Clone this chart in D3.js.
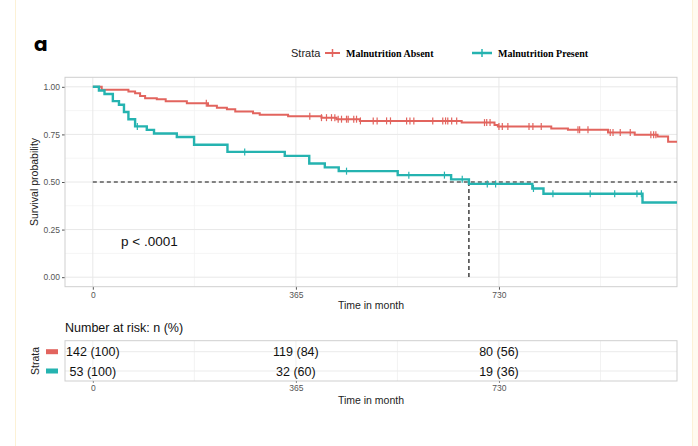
<!DOCTYPE html>
<html>
<head>
<meta charset="utf-8">
<script src="https://cdn.jsdelivr.net/npm/d3@7"></script>
<style>
  body { margin: 0; background: #fff; }
  svg { display: block; font-family: "Liberation Sans", Arial, sans-serif; }
</style>
</head>
<body>
<div id="chart"></div>
<script>
// strata and colours
const strata = ["Malnutrition Absent", "Malnutrition Present"];
const colors = ["#e2645e", "#25b3b0"];

// Malnutrition Absent: event times and survival after each drop
const absentTimes = [16, 64, 76, 85, 94, 115, 131, 169, 207, 223, 241, 256, 288, 300, 351, 411, 438, 480, 663, 722, 728, 824, 854, 926, 974, 1015, 1034];
const absentSurv  = [0.985, 0.975, 0.966, 0.952, 0.94, 0.935, 0.924, 0.914, 0.90, 0.89, 0.882, 0.87, 0.861, 0.853, 0.846, 0.838, 0.83, 0.821, 0.812, 0.80, 0.791, 0.781, 0.774, 0.76, 0.748, 0.739, 0.711];
const absentCensor = [204, 390, 411, 420, 429, 435, 441, 447, 456, 459, 469, 474, 481, 504, 511, 528, 535, 564, 570, 577, 611, 629, 634, 638, 645, 654, 704, 708, 714, 730, 736, 746, 784, 791, 806, 872, 875, 890, 930, 935, 948, 966, 1003, 1008, 1012];

// Malnutrition Present
const presentTimes = [11, 21, 36, 47, 56, 64, 76, 97, 110, 151, 182, 242, 345, 389, 417, 442, 548, 644, 676, 790, 810, 988];
const presentSurv  = [0.981, 0.962, 0.925, 0.906, 0.868, 0.830, 0.792, 0.774, 0.755, 0.736, 0.696, 0.658, 0.637, 0.597, 0.577, 0.557, 0.536, 0.514, 0.49, 0.466, 0.438, 0.392];
const presentCensor = [80, 273, 456, 568, 632, 664, 709, 724, 792, 827, 894, 938, 978, 986];

const endTime = 1050;
const medianTime = 676;

// axis ticks
const xTicks = [0, 365, 730];
const xMinor = [182.5, 547.5, 912.5];
const yTicks = [0, 0.25, 0.5, 0.75, 1];
const yMinor = [0.125, 0.375, 0.625, 0.875];

// risk table
const riskTimes = [0, 365, 730];
const riskAbsent = ["142 (100)", "119 (84)", "80 (56)"];
const riskPresent = ["53 (100)", "32 (60)", "19 (36)"];

const W = 698, H = 446;
const svg = d3.select("#chart").append("svg").attr("width", W).attr("height", H);

// faint page frame
svg.append("rect").attr("x", 15.5).attr("y", -2).attr("width", 677).attr("height", H + 4)
    .attr("fill", "none").attr("stroke", "#fcf1d6").attr("stroke-width", 1);
svg.append("rect").attr("x", 693).attr("y", 0).attr("width", 5).attr("height", H).attr("fill", "#fffaf0");

// scales
const x = d3.scaleLinear().domain([-50, 1050]).range([65, 677]);
const y = d3.scaleLinear().domain([-0.05, 1.05]).range([286.7, 77.3]);

// panel a label
svg.append("text").attr("x", 34).attr("y", 51).attr("font-size", 20).attr("font-weight", "bold")
    .attr("font-family", "Poppins, 'Open Sans', sans-serif").text("a");

// legend
const legY = 53;
svg.append("text").attr("x", 291).attr("y", legY + 4).attr("font-size", 11).attr("fill", "#222").text("Strata");
const legX = [[325, 340, 346], [472, 492, 498]];
strata.forEach((s, i) => {
    const [a, b, tx] = legX[i];
    svg.append("line").attr("x1", a).attr("x2", b).attr("y1", legY).attr("y2", legY)
        .attr("stroke", colors[i]).attr("stroke-width", i ? 2.5 : 2);
    svg.append("line").attr("x1", (a + b) / 2).attr("x2", (a + b) / 2).attr("y1", legY - 4).attr("y2", legY + 4)
        .attr("stroke", colors[i]).attr("stroke-width", 1.5);
    svg.append("text").attr("x", tx).attr("y", legY + 4).attr("font-size", 10).attr("font-weight", "bold")
        .attr("font-family", "'Liberation Serif', 'Times New Roman', serif").text(s);
});

// grid
const grid = svg.append("g");
grid.selectAll(".ymin").data(yMinor).enter().append("line")
    .attr("x1", 65).attr("x2", 677).attr("y1", d => y(d)).attr("y2", d => y(d))
    .attr("stroke", "#f2f2f2").attr("stroke-width", 0.8);
grid.selectAll(".xmin").data(xMinor).enter().append("line")
    .attr("y1", 77.3).attr("y2", 286.7).attr("x1", d => x(d)).attr("x2", d => x(d))
    .attr("stroke", "#f2f2f2").attr("stroke-width", 0.8);
grid.selectAll(".ymaj").data(yTicks).enter().append("line")
    .attr("x1", 65).attr("x2", 677).attr("y1", d => y(d)).attr("y2", d => y(d))
    .attr("stroke", "#e8e8e8").attr("stroke-width", 1);
grid.selectAll(".xmaj").data(xTicks).enter().append("line")
    .attr("y1", 77.3).attr("y2", 286.7).attr("x1", d => x(d)).attr("x2", d => x(d))
    .attr("stroke", "#e8e8e8").attr("stroke-width", 1);

// axes
const yAxis = svg.append("g").attr("transform", "translate(65,0)")
    .call(d3.axisLeft(y).tickValues(yTicks).tickFormat(d3.format(".2f")).tickSize(3).tickPadding(2));
const xAxis = svg.append("g").attr("transform", "translate(0,286.7)")
    .call(d3.axisBottom(x).tickValues(xTicks).tickSize(3).tickPadding(2));
[yAxis, xAxis].forEach(g => {
    g.select(".domain").remove();
    g.selectAll(".tick line").attr("stroke", "#555");
    g.selectAll(".tick text").attr("fill", "#555").attr("font-size", 8.5);
});

svg.append("rect").attr("x", 65).attr("y", 77.3).attr("width", 612).attr("height", 209.4)
    .attr("fill", "none").attr("stroke", "#cfcfcf").attr("stroke-width", 1);

svg.append("text").attr("transform", "translate(38,182) rotate(-90)").attr("text-anchor", "middle")
    .attr("font-size", 10.5).attr("fill", "#222").text("Survival probability");
svg.append("text").attr("x", 371).attr("y", 309).attr("text-anchor", "middle")
    .attr("font-size", 10.5).attr("fill", "#222").text("Time in month");

// median lines
svg.append("line").attr("x1", x(0)).attr("x2", x(endTime)).attr("y1", y(0.5)).attr("y2", y(0.5))
    .attr("stroke", "#111").attr("stroke-dasharray", "4,3").attr("stroke-width", 1.2);
svg.append("line").attr("x1", x(medianTime)).attr("x2", x(medianTime)).attr("y1", y(0.5)).attr("y2", y(0))
    .attr("stroke", "#111").attr("stroke-dasharray", "4,3").attr("stroke-width", 1.2);

// survival curves
const line = d3.line().x(d => x(d[0])).y(d => y(d[1])).curve(d3.curveStepAfter);
function stepAt(times, surv, t) {
    let s = 1;
    times.forEach((tt, i) => { if (tt <= t) s = surv[i]; });
    return s;
}
const series = [
    {times: absentTimes, surv: absentSurv, censor: absentCensor, color: colors[0], w: 2},
    {times: presentTimes, surv: presentSurv, censor: presentCensor, color: colors[1], w: 2.4}
];
series.forEach(sr => {
    const pts = [[0, 1]].concat(sr.times.map((t, i) => [t, sr.surv[i]]));
    pts.push([endTime, sr.surv[sr.surv.length - 1]]);
    svg.append("path").datum(pts).attr("d", line).attr("fill", "none")
        .attr("stroke", sr.color).attr("stroke-width", sr.w);
    svg.append("g").selectAll("line").data(sr.censor).enter().append("line")
        .attr("x1", d => x(d)).attr("x2", d => x(d))
        .attr("y1", d => y(stepAt(sr.times, sr.surv, d)) - 3.5)
        .attr("y2", d => y(stepAt(sr.times, sr.surv, d)) + 3.5)
        .attr("stroke", sr.color).attr("stroke-width", 1.2);
});

svg.append("text").attr("x", 121).attr("y", 245.5).attr("font-size", 13.5).attr("fill", "#111").text("p < .0001");

// risk table
svg.append("text").attr("x", 65).attr("y", 332).attr("font-size", 12.5).attr("fill", "#111").text("Number at risk: n (%)");
const rowY = [351.7, 371];
const tg = svg.append("g");
tg.selectAll(".tx").data(xMinor.concat(xTicks)).enter().append("line")
    .attr("x1", d => x(d)).attr("x2", d => x(d)).attr("y1", 340.7).attr("y2", 381)
    .attr("stroke", "#efefef").attr("stroke-width", 0.8);
tg.selectAll(".ty").data(rowY).enter().append("line")
    .attr("x1", 65).attr("x2", 677).attr("y1", d => d).attr("y2", d => d)
    .attr("stroke", "#ebebeb").attr("stroke-width", 1);
svg.append("rect").attr("x", 65).attr("y", 340.7).attr("width", 612).attr("height", 40.3)
    .attr("fill", "none").attr("stroke", "#cfcfcf").attr("stroke-width", 1);

[riskAbsent, riskPresent].forEach((row, i) => {
    svg.append("g").selectAll("text").data(row).enter().append("text")
        .attr("x", (d, j) => x(riskTimes[j])).attr("y", rowY[i] + 4.5)
        .attr("text-anchor", "middle").attr("font-size", 12.5).attr("fill", "#111").text(d => d);
    svg.append("rect").attr("x", 46).attr("y", rowY[i] - 2.5).attr("width", 12).attr("height", 5)
        .attr("fill", colors[i]);
});
svg.append("text").attr("transform", "translate(39,361) rotate(-90)").attr("text-anchor", "middle")
    .attr("font-size", 10.5).attr("fill", "#222").text("Strata");

const xAxis2 = svg.append("g").attr("transform", "translate(0,381)")
    .call(d3.axisBottom(x).tickValues(xTicks).tickSize(2).tickPadding(2));
xAxis2.select(".domain").remove();
xAxis2.selectAll(".tick line").attr("stroke", "#888");
xAxis2.selectAll(".tick text").attr("fill", "#555").attr("font-size", 8.5);
svg.append("text").attr("x", 371).attr("y", 403.5).attr("text-anchor", "middle")
    .attr("font-size", 10.5).attr("fill", "#222").text("Time in month");
</script>
</body>
</html>
